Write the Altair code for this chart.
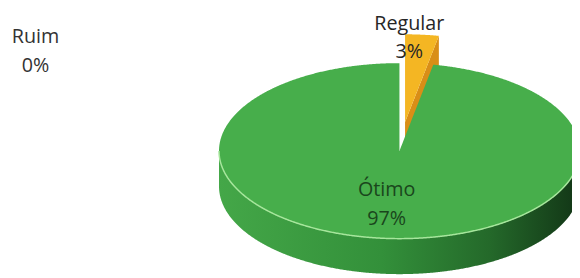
import altair as alt
import numpy as np
import pandas as pd

# ---- data ----
categories = ["Regular", "Ruim", "Ótimo"]   # drawn clockwise from 12 o'clock
values = [3, 0, 97]

# ---- layout / style constants (not data) ----
CX, CY, RX, RY, DEPTH = 405.0, 151.0, 183.0, 89.0, 36.0
EXPLODE = 0.33
LABEL_ANCHOR = {"Ruim": (36, 42), "Regular": (415, 28), "Ótimo": (392, 197)}
LABEL_COLOR = {"Ruim": "#333333", "Regular": "#262626", "Ótimo": "#1a461c"}
TOP_GREEN = "#47AE4B"
YELLOW = "#F4B623"
YELLOW_SIDE = "#D98E17"

total = float(sum(values))
angles = {}
acc = 0.0
for c, v in zip(categories, values):
    a0 = acc / total * 2 * np.pi
    acc += v
    a1 = acc / total * 2 * np.pi
    angles[c] = (a0, a1)


def pt(theta):
    return CX + RX * np.sin(theta), CY - RY * np.cos(theta)


def ell_half(x):
    u = np.clip((x - CX) / RX, -1, 1)
    return RY * np.sqrt(1 - u * u)


t = np.linspace(0, np.pi, 500)
xs_full = CX - RX * np.cos(t)

# ---- big slice (Ótimo) ----
g0, g1 = angles["Ótimo"]
xe, ye = pt(g0)  # edge of the cut next to Regular
rows = []
xs = np.unique(np.concatenate([xs_full, [xe]]))
for x in xs:
    if x < CX:
        rows.append((x, CY - ell_half(x), CY + ell_half(x)))
rows.append((CX, CY - RY, CY + RY))
rows.append((CX + 0.01, CY, CY + RY))
for x in xs:
    if x <= CX + 0.01:
        continue
    if x <= xe:
        top = CY + (x - CX) * (ye - CY) / (xe - CX)
    else:
        top = CY - ell_half(x)
    rows.append((x, top, CY + ell_half(x)))
green_top = pd.DataFrame(rows, columns=["x", "y", "y2"])

side = pd.DataFrame({"x": xs_full})
side["y"] = CY + ell_half(side["x"])
side["y2"] = side["y"] + DEPTH

# ---- exploded slice (Regular) ----
r0, r1 = angles["Regular"]
mid = (r0 + r1) / 2
ox, oy = EXPLODE * RX * np.sin(mid), -EXPLODE * RY * np.cos(mid)
rxe, rye = pt(r1)
xr = np.linspace(CX, rxe, 60)
line_r = CY + (xr - CX) * (rye - CY) / (rxe - CX)
yel_top = pd.DataFrame({"x": xr + ox, "y": CY - ell_half(xr) + oy, "y2": line_r + oy})
yel_side = pd.DataFrame({"x": xr + ox, "y": line_r + oy, "y2": line_r + oy + DEPTH})

# ---- labels ----
pct = {c: v for c, v in zip(categories, values)}
order_lab = ["Ruim", "Regular", "Ótimo"]
lab = pd.DataFrame({
    "text": [f"{c}\n{pct[c]}%" for c in order_lab],
    "x": [LABEL_ANCHOR[c][0] for c in order_lab],
    "y": [LABEL_ANCHOR[c][1] for c in order_lab],
    "col": [LABEL_COLOR[c] for c in order_lab],
})

xsc = alt.Scale(domain=[8, 580], nice=False, zero=False)
ysc = alt.Scale(domain=[8, 278], nice=False, zero=False, reverse=True)
X = alt.X("x:Q", scale=xsc, axis=None)
Y = alt.Y("y:Q", scale=ysc, axis=None, stack=None)
Y2 = alt.Y2("y2:Q")

grad = alt.Gradient(
    gradient="linear",
    stops=[alt.GradientStop(color="#44A748", offset=0),
           alt.GradientStop(color="#33903A", offset=0.45),
           alt.GradientStop(color="#24692A", offset=0.75),
           alt.GradientStop(color="#123516", offset=1)],
    x1=0, x2=1, y1=0, y2=0)

l_yside = alt.Chart(yel_side).mark_area(color=YELLOW_SIDE, clip=True).encode(
    x=X, y=Y, y2=Y2)
l_ytop = alt.Chart(yel_top).mark_area(color=YELLOW, clip=True).encode(
    x=X, y=Y, y2=Y2)
l_side = alt.Chart(side).mark_area(color=grad, clip=True).encode(
    x=X, y=Y, y2=Y2)
l_gtop = alt.Chart(green_top).mark_area(color=TOP_GREEN, clip=True).encode(
    x=X, y=Y, y2=Y2)
l_hl = alt.Chart(side).mark_line(color="#A6E69C", strokeWidth=1.5, clip=True).encode(
    x=X, y=Y)
l_text = alt.Chart(lab).mark_text(
    font="Open Sans", fontSize=20, align="center", baseline="alphabetic",
    lineBreak="\n", lineHeight=29).encode(
    x=X, y=Y, text="text:N", color=alt.Color("col:N", scale=None))

chart = alt.layer(l_yside, l_ytop, l_side, l_gtop, l_hl, l_text).properties(
    width=572, height=270, padding=0, autosize="none", background="white"
).configure_view(stroke=None)

chart.save("out.html", embed_options={"renderer": "svg", "actions": False})
